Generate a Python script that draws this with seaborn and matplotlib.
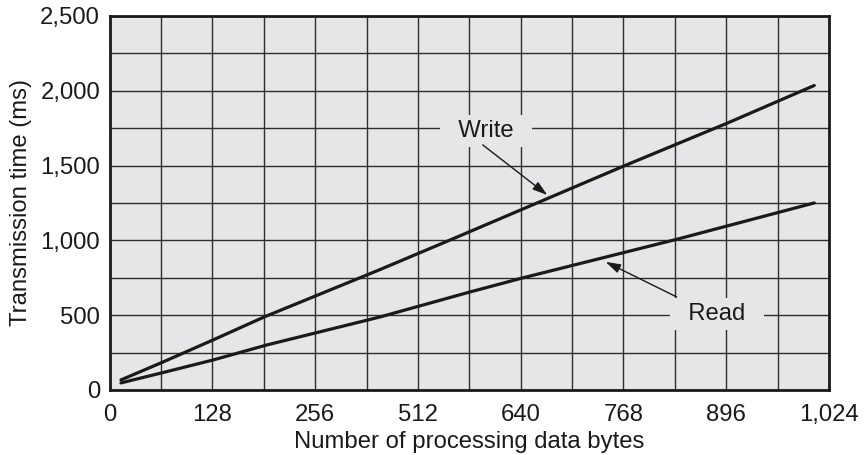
import numpy as np
import pandas as pd
import matplotlib.pyplot as plt
import seaborn as sns

# ========= DADOS ==========
write_x = [16, 74, 147, 221, 385, 485, 732, 880, 1003]
write_y = [67, 183, 334, 490, 805, 1003, 1497, 1785, 2035]
read_x = [16, 74, 147, 224, 385, 513, 588, 809, 1003]
read_y = [47, 114, 200, 301, 488, 655, 749, 1009, 1250]

x_tick_labels = ["0", "128", "256", "512", "640", "768", "896", "1,024"]
y_ticks = [0, 500, 1000, 1500, 2000, 2500]
y_tick_labels = ["0", "500", "1,000", "1,500", "2,000", "2,500"]

df = pd.concat([
    pd.DataFrame({"bytes": write_x, "ms": write_y, "serie": "Write"}),
    pd.DataFrame({"bytes": read_x, "ms": read_y, "serie": "Read"}),
])

# ========= ESTILO ==========
sns.set_style("white")
plt.rcParams["font.family"] = ["Liberation Sans", "DejaVu Sans"]
face = "#e6e6e8"
grid_c = "#2e2e2e"
fs = 17.2

fig = plt.figure(figsize=(8.64, 4.55), dpi=100)
ax = fig.add_axes([0.127, 0.143, 0.8325, 0.822])
ax.set_facecolor(face)

sns.lineplot(data=df, x="bytes", y="ms", hue="serie", palette=["#1a1a1a", "#1a1a1a"],
             linewidth=2.3, legend=False, ax=ax, zorder=3, estimator=None, sort=False)

ax.set_xlim(0, 1024)
ax.set_ylim(0, 2500)
xt = np.linspace(0, 1024, 8)
ax.set_xticks(xt)
ax.set_xticklabels(x_tick_labels)
ax.set_xticks(np.linspace(0, 1024, 15), minor=True)
ax.set_yticks(y_ticks)
ax.set_yticklabels(y_tick_labels)
ax.set_yticks(np.arange(0, 2501, 250), minor=True)
ax.tick_params(which="both", length=0, labelsize=fs, colors="#1a1a1a")
ax.tick_params(axis="x", pad=10)
ax.tick_params(axis="y", pad=7)
ax.grid(True, which="both", color=grid_c, linewidth=1.0, zorder=1)
ax.set_axisbelow(True)
for s in ax.spines.values():
    s.set_linewidth(2.0)
    s.set_color("#1a1a1a")

ax.set_xlabel("Number of processing data bytes", fontsize=fs, color="#1a1a1a", labelpad=4)
ax.set_ylabel("Transmission time (ms)", fontsize=fs, color="#1a1a1a", labelpad=6)

# ========= ROTULOS ==========
box = dict(boxstyle="square,pad=0.22", facecolor=face, edgecolor="none")
ax.text(536, 1731, "  Write  ", fontsize=fs, ha="center", va="center",
        color="#1a1a1a", bbox=box, zorder=4)
ax.text(864, 508, "  Read  ", fontsize=fs, ha="center", va="center",
        color="#1a1a1a", bbox=box, zorder=4)
arrow = dict(arrowstyle="-|>,head_length=0.9,head_width=0.28", color="#1a1a1a",
             lw=1.0, shrinkA=0, shrinkB=0)
ax.annotate("", xy=(623, 1303), xytext=(531, 1638), arrowprops=arrow, zorder=5)
ax.annotate("", xy=(706, 856), xytext=(807, 622), arrowprops=arrow, zorder=5)

fig.savefig("out.png", dpi=100)
